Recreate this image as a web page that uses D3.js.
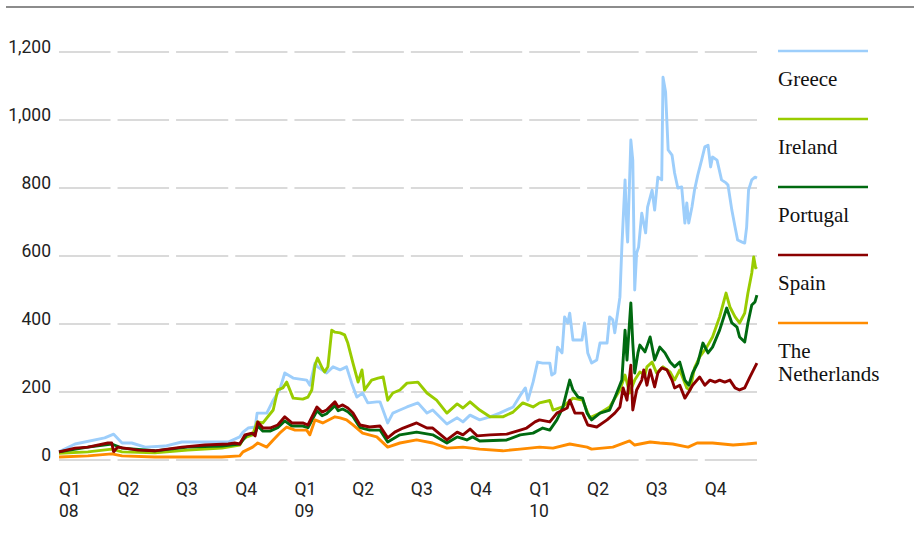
<!DOCTYPE html>
<html>
<head>
<meta charset="utf-8">
<script src="https://cdn.jsdelivr.net/npm/d3@7"></script>
<style>
  body { margin: 0; background: #fff; }
  .y-axis text { font-family: Roboto, sans-serif; font-size: 17.5px; fill: #222; }
  .q-label { font-family: Roboto, sans-serif; font-size: 17.5px; fill: #222; }
  .legend-label { font-family: "Liberation Serif", serif; font-size: 21px; fill: #111; }
</style>
</head>
<body>
<svg id="chart"></svg>
<script>
// Spreads over German bunds, basis points
const countries = ['Greece', 'Ireland', 'Portugal', 'Spain', 'The Netherlands'];
const colors = ['#9dcefb', '#99cc00', '#006a10', '#8b0000', '#ff8c00'];
const yTicks = [0, 200, 400, 600, 800, 1000, 1200];
const quarterNames = ['Q1', 'Q2', 'Q3', 'Q4'];

const greece = [
  ['2008-01-01', 24], ['2008-01-26', 47], ['2008-03-12', 65], ['2008-03-26', 76], ['2008-04-08', 50],
  ['2008-04-23', 50], ['2008-05-14', 38], ['2008-06-14', 41], ['2008-07-10', 53], ['2008-08-15', 53],
  ['2008-09-20', 53], ['2008-10-08', 68], ['2008-10-13', 82], ['2008-10-21', 94], ['2008-11-01', 97],
  ['2008-11-04', 138], ['2008-11-19', 138], ['2008-11-29', 176], ['2008-12-09', 206], ['2008-12-17', 256],
  ['2008-12-30', 241], ['2009-01-20', 235], ['2009-01-25', 220], ['2009-02-02', 285], ['2009-02-06', 274],
  ['2009-02-20', 256], ['2009-03-02', 274], ['2009-03-13', 265], ['2009-03-23', 274], ['2009-03-31', 226],
  ['2009-04-08', 185], ['2009-04-17', 197], ['2009-04-25', 168], ['2009-05-09', 171], ['2009-05-14', 171],
  ['2009-05-26', 109], ['2009-06-03', 138], ['2009-06-14', 147], ['2009-06-25', 156], ['2009-07-12', 168],
  ['2009-07-26', 138], ['2009-08-04', 147], ['2009-08-26', 106], ['2009-09-11', 124], ['2009-09-20', 112],
  ['2009-10-01', 132], ['2009-10-16', 118], ['2009-11-01', 127], ['2009-11-16', 138], ['2009-12-07', 156],
  ['2009-12-18', 190], ['2009-12-26', 212], ['2009-12-30', 176], ['2010-01-07', 229], ['2010-01-14', 288],
  ['2010-01-22', 285], ['2010-02-02', 285], ['2010-02-05', 250], ['2010-02-10', 256], ['2010-02-14', 332],
  ['2010-02-21', 315], ['2010-02-25', 421], ['2010-03-02', 403], ['2010-03-05', 432], ['2010-03-10', 353],
  ['2010-03-24', 353], ['2010-03-28', 403], ['2010-04-02', 315], ['2010-04-08', 285], ['2010-04-16', 294],
  ['2010-04-21', 344], ['2010-05-02', 344], ['2010-05-06', 421], ['2010-05-11', 412], ['2010-05-14', 374],
  ['2010-05-22', 479], ['2010-05-25', 626], ['2010-05-30', 824], ['2010-06-02', 668], ['2010-06-03', 641],
  ['2010-06-08', 941], ['2010-06-11', 882], ['2010-06-14', 500], ['2010-06-17', 609], ['2010-06-20', 626],
  ['2010-06-25', 726], ['2010-07-01', 668], ['2010-07-04', 744], ['2010-07-11', 794], ['2010-07-15', 735],
  ['2010-07-20', 832], ['2010-07-26', 824], ['2010-07-28', 1126], ['2010-08-01', 1082], ['2010-08-05', 912],
  ['2010-08-11', 897], ['2010-08-15', 844], ['2010-08-20', 800], ['2010-08-26', 803], ['2010-08-31', 697],
  ['2010-09-03', 756], ['2010-09-06', 697], ['2010-09-11', 744], ['2010-09-15', 794], ['2010-09-20', 838],
  ['2010-09-26', 882], ['2010-10-01', 921], ['2010-10-06', 926], ['2010-10-10', 862], ['2010-10-13', 891],
  ['2010-10-20', 882], ['2010-10-27', 824], ['2010-11-03', 815], ['2010-11-06', 809], ['2010-11-12', 735],
  ['2010-11-17', 685], ['2010-11-21', 647], ['2010-11-28', 641], ['2010-12-02', 638], ['2010-12-05', 685],
  ['2010-12-08', 794], ['2010-12-13', 824], ['2010-12-18', 832], ['2010-12-21', 829]
];

const ireland = [
  ['2008-01-01', 20], ['2008-02-15', 24], ['2008-03-23', 32], ['2008-04-08', 24], ['2008-05-29', 21],
  ['2008-07-19', 29], ['2008-09-10', 35], ['2008-10-08', 44], ['2008-10-13', 60], ['2008-10-19', 68],
  ['2008-10-28', 74], ['2008-11-04', 112], ['2008-11-13', 109], ['2008-11-29', 147], ['2008-12-06', 206],
  ['2008-12-14', 212], ['2008-12-20', 229], ['2008-12-30', 182], ['2009-01-14', 179], ['2009-01-22', 185],
  ['2009-01-28', 206], ['2009-02-02', 279], ['2009-02-06', 300], ['2009-02-13', 271], ['2009-02-17', 259],
  ['2009-02-22', 274], ['2009-02-28', 382], ['2009-03-05', 376], ['2009-03-13', 374], ['2009-03-20', 368],
  ['2009-03-25', 344], ['2009-04-02', 285], ['2009-04-10', 229], ['2009-04-16', 265], ['2009-04-20', 206],
  ['2009-05-01', 235], ['2009-05-11', 241], ['2009-05-19', 244], ['2009-05-26', 176], ['2009-06-03', 197],
  ['2009-06-14', 206], ['2009-06-25', 226], ['2009-07-12', 229], ['2009-07-26', 197], ['2009-08-10', 176],
  ['2009-08-26', 138], ['2009-09-11', 165], ['2009-09-20', 153], ['2009-10-01', 171], ['2009-10-16', 147],
  ['2009-11-01', 127], ['2009-11-21', 127], ['2009-12-07', 141], ['2009-12-22', 168], ['2010-01-07', 156],
  ['2010-01-17', 168], ['2010-02-02', 175], ['2010-02-07', 147], ['2010-02-22', 156], ['2010-03-10', 182],
  ['2010-03-25', 176], ['2010-04-05', 124], ['2010-04-21', 138], ['2010-05-06', 156], ['2010-05-22', 206],
  ['2010-05-30', 250], ['2010-06-06', 197], ['2010-06-14', 235], ['2010-06-22', 259], ['2010-06-30', 250],
  ['2010-07-03', 274], ['2010-07-11', 288], ['2010-07-18', 256], ['2010-07-28', 274], ['2010-08-08', 259],
  ['2010-08-15', 235], ['2010-08-23', 265], ['2010-09-03', 212], ['2010-09-08', 206], ['2010-09-15', 271],
  ['2010-09-23', 303], ['2010-10-04', 332], ['2010-10-13', 362], ['2010-10-24', 421], ['2010-11-03', 491],
  ['2010-11-09', 450], ['2010-11-17', 421], ['2010-11-24', 403], ['2010-12-02', 432], ['2010-12-07', 491],
  ['2010-12-13', 550], ['2010-12-16', 597], ['2010-12-19', 565], ['2010-12-21', 568]
];

const portugal = [
  ['2008-01-01', 24], ['2008-02-15', 38], ['2008-03-23', 47], ['2008-04-08', 35], ['2008-05-29', 27],
  ['2008-07-19', 38], ['2008-09-10', 41], ['2008-10-08', 47], ['2008-10-19', 74], ['2008-11-01', 79],
  ['2008-11-05', 100], ['2008-11-13', 85], ['2008-11-24', 85], ['2008-12-06', 95], ['2008-12-17', 115],
  ['2008-12-28', 100], ['2009-01-14', 100], ['2009-01-22', 95], ['2009-02-05', 145], ['2009-02-13', 130],
  ['2009-02-20', 136], ['2009-03-05', 160], ['2009-03-10', 145], ['2009-03-17', 150], ['2009-03-25', 142],
  ['2009-04-02', 128], ['2009-04-13', 95], ['2009-04-28', 88], ['2009-05-14', 88], ['2009-05-26', 53],
  ['2009-06-14', 74], ['2009-07-10', 82], ['2009-08-04', 74], ['2009-08-26', 50], ['2009-09-11', 68],
  ['2009-09-26', 59], ['2009-10-05', 68], ['2009-10-16', 56], ['2009-11-27', 59], ['2009-12-18', 74],
  ['2010-01-07', 79], ['2010-01-22', 94], ['2010-02-02', 88], ['2010-02-13', 118], ['2010-02-22', 153],
  ['2010-03-05', 235], ['2010-03-10', 206], ['2010-03-18', 185], ['2010-03-25', 182], ['2010-04-01', 138],
  ['2010-04-08', 118], ['2010-04-21', 138], ['2010-05-06', 147], ['2010-05-17', 197], ['2010-05-25', 235],
  ['2010-05-30', 382], ['2010-06-02', 294], ['2010-06-08', 462], ['2010-06-11', 344], ['2010-06-14', 256],
  ['2010-06-19', 315], ['2010-06-22', 338], ['2010-06-30', 318], ['2010-07-08', 362], ['2010-07-15', 294],
  ['2010-07-23', 332], ['2010-07-31', 315], ['2010-08-08', 288], ['2010-08-15', 274], ['2010-08-23', 288],
  ['2010-08-31', 235], ['2010-09-06', 220], ['2010-09-12', 256], ['2010-09-20', 285], ['2010-09-28', 344],
  ['2010-10-06', 315], ['2010-10-13', 332], ['2010-10-24', 382], ['2010-11-04', 447], ['2010-11-12', 403],
  ['2010-11-20', 391], ['2010-11-24', 362], ['2010-12-02', 347], ['2010-12-07', 403], ['2010-12-13', 456],
  ['2010-12-18', 465], ['2010-12-21', 485]
];

const spain = [
  ['2008-01-01', 24], ['2008-01-26', 35], ['2008-02-15', 38], ['2008-03-17', 50], ['2008-03-23', 50],
  ['2008-03-26', 24], ['2008-04-01', 38], ['2008-05-03', 29], ['2008-05-29', 27], ['2008-07-10', 38],
  ['2008-08-15', 44], ['2008-09-20', 47], ['2008-09-30', 50], ['2008-10-08', 47], ['2008-10-16', 74],
  ['2008-10-27', 79], ['2008-11-01', 71], ['2008-11-05', 112], ['2008-11-13', 94], ['2008-11-24', 94],
  ['2008-12-06', 103], ['2008-12-17', 127], ['2008-12-28', 109], ['2009-01-14', 109], ['2009-01-22', 103],
  ['2009-02-05', 156], ['2009-02-13', 141], ['2009-02-20', 147], ['2009-03-05', 171], ['2009-03-10', 156],
  ['2009-03-17', 162], ['2009-03-25', 153], ['2009-04-02', 138], ['2009-04-13', 103], ['2009-04-28', 97],
  ['2009-05-14', 100], ['2009-05-26', 65], ['2009-06-06', 82], ['2009-06-19', 94], ['2009-07-10', 109],
  ['2009-07-26', 94], ['2009-08-04', 94], ['2009-08-26', 59], ['2009-09-11', 82], ['2009-09-20', 74],
  ['2009-10-01', 91], ['2009-10-12', 71], ['2009-11-01', 74], ['2009-11-27', 76], ['2009-12-18', 88],
  ['2009-12-28', 94], ['2010-01-10', 112], ['2010-01-17', 118], ['2010-02-02', 112], ['2010-02-13', 138],
  ['2010-03-01', 153], ['2010-03-05', 176], ['2010-03-13', 138], ['2010-03-25', 138], ['2010-04-02', 103],
  ['2010-04-16', 97], ['2010-05-02', 118], ['2010-05-14', 138], ['2010-05-22', 156], ['2010-05-27', 212],
  ['2010-06-02', 176], ['2010-06-08', 279], ['2010-06-11', 147], ['2010-06-17', 206], ['2010-06-25', 235],
  ['2010-06-28', 265], ['2010-07-03', 220], ['2010-07-08', 265], ['2010-07-15', 215], ['2010-07-20', 256],
  ['2010-07-26', 271], ['2010-08-03', 265], ['2010-08-11', 235], ['2010-08-15', 212], ['2010-08-23', 220],
  ['2010-08-31', 182], ['2010-09-06', 200], ['2010-09-12', 220], ['2010-09-23', 244], ['2010-10-01', 220],
  ['2010-10-09', 235], ['2010-10-17', 229], ['2010-10-24', 235], ['2010-11-01', 229], ['2010-11-09', 235],
  ['2010-11-17', 212], ['2010-11-24', 206], ['2010-12-02', 212], ['2010-12-10', 244], ['2010-12-18', 274],
  ['2010-12-21', 285]
];

const netherlands = [
  ['2008-01-01', 9], ['2008-02-15', 12], ['2008-03-23', 18], ['2008-04-08', 12], ['2008-05-29', 9],
  ['2008-09-10', 9], ['2008-10-08', 12], ['2008-10-13', 24], ['2008-10-28', 38], ['2008-11-05', 50],
  ['2008-11-19', 38], ['2008-11-29', 59], ['2008-12-09', 79], ['2008-12-20', 97], ['2009-01-02', 88],
  ['2009-01-20', 88], ['2009-01-25', 74], ['2009-02-02', 118], ['2009-02-14', 109], ['2009-03-05', 127],
  ['2009-03-13', 124], ['2009-03-23', 118], ['2009-04-02', 103], ['2009-04-17', 79], ['2009-05-09', 68],
  ['2009-05-26', 38], ['2009-06-14', 50], ['2009-07-10', 59], ['2009-08-04', 50], ['2009-08-26', 35],
  ['2009-09-20', 38], ['2009-10-16', 32], ['2009-11-21', 27], ['2009-12-18', 32], ['2010-01-17', 38],
  ['2010-02-07', 35], ['2010-03-05', 47], ['2010-04-01', 38], ['2010-04-08', 32], ['2010-05-11', 38],
  ['2010-06-06', 56], ['2010-06-14', 44], ['2010-07-08', 53], ['2010-07-23', 50], ['2010-08-12', 47],
  ['2010-09-05', 38], ['2010-09-19', 50], ['2010-10-13', 50], ['2010-11-14', 44], ['2010-12-05', 47],
  ['2010-12-21', 50]
];

class SpreadChart {

    constructor(_config) {
        this.config = {
            parentElement: _config.parentElement,
            containerWidth: _config.containerWidth || 914,
            containerHeight: _config.containerHeight || 558,
        };
        this.initVis();
    }

    initVis() {
        let vis = this;

        vis.svg = d3.select(vis.config.parentElement)
            .attr('width', vis.config.containerWidth)
            .attr('height', vis.config.containerHeight);

        vis.parseDate = d3.timeParse('%Y-%m-%d');

        vis.xScale = d3.scaleTime()
            .domain([new Date(2008, 0, 1), new Date(2011, 0, 1)])
            .range([59, 764]);

        vis.yScale = d3.scaleLinear()
            .domain([0, 1200])
            .range([460, 52]);

        vis.line = d3.line()
            .x(d => vis.xScale(d.date))
            .y(d => vis.yScale(d.value));

        // rule across the top
        vis.svg.append('line')
            .attr('x1', 6).attr('x2', vis.config.containerWidth)
            .attr('y1', 7).attr('y2', 7)
            .attr('stroke', '#666')
            .attr('stroke-width', 1.6);
    }

    render() {
        let vis = this;

        const quarters = d3.timeMonth.every(3).range(new Date(2008, 0, 1), new Date(2011, 0, 1));

        // dashed grid: one segment per quarter, per tick
        const cells = [];
        yTicks.forEach(t => quarters.forEach(q => cells.push({ t, q })));
        vis.svg.append('g').selectAll('.grid-seg')
            .data(cells)
          .join('line')
            .attr('class', 'grid-seg')
            .attr('x1', d => vis.xScale(d.q))
            .attr('x2', d => vis.xScale(d3.timeMonth.offset(d.q, 3)) - 7)
            .attr('y1', d => vis.yScale(d.t))
            .attr('y2', d => vis.yScale(d.t))
            .attr('stroke', '#b5b5b5')
            .attr('stroke-width', 1.2);

        // y axis labels
        const yAxis = d3.axisLeft(vis.yScale)
            .tickValues(yTicks)
            .tickFormat(d3.format(','))
            .tickSize(0)
            .tickPadding(0);
        const yAxisG = vis.svg.append('g')
            .attr('class', 'y-axis')
            .attr('transform', 'translate(51,0)')
            .call(yAxis);
        yAxisG.select('.domain').remove();
        yAxisG.selectAll('text').attr('dy', 0);

        // quarter labels, with year under Q1
        const qLabel = vis.svg.append('g').selectAll('.q-label')
            .data(quarters)
          .join('text')
            .attr('class', 'q-label')
            .attr('x', d => vis.xScale(d))
            .attr('y', 495);
        qLabel.append('tspan')
            .text(d => quarterNames[Math.floor(d.getMonth() / 3)]);
        qLabel.filter(d => d.getMonth() === 0).append('tspan')
            .attr('x', d => vis.xScale(d))
            .attr('dy', 22)
            .text(d => d3.timeFormat('%y')(d));

        // series lines
        const series = [greece, ireland, portugal, spain, netherlands].map((s, i) => ({
            name: countries[i],
            color: colors[i],
            values: s.map(p => ({ date: vis.parseDate(p[0]), value: p[1] }))
        }));

        vis.svg.append('g').selectAll('.series')
            .data(series)
          .join('path')
            .attr('class', 'series')
            .attr('fill', 'none')
            .attr('stroke', d => d.color)
            .attr('stroke-width', 2.9)
            .attr('stroke-linejoin', 'round')
            .attr('d', d => vis.line(d.values));

        // legend on the right
        const legend = vis.svg.append('g').selectAll('.legend-item')
            .data(series)
          .join('g')
            .attr('class', 'legend-item')
            .attr('transform', (d, i) => `translate(778,${51 + i * 68})`);

        legend.append('line')
            .attr('x1', 0).attr('x2', 90)
            .attr('stroke', d => d.color)
            .attr('stroke-width', 2.5);

        const legendText = legend.append('text')
            .attr('class', 'legend-label')
            .attr('y', 35);
        legendText.selectAll('tspan')
            .data(d => d.name === 'The Netherlands' ? ['The', 'Netherlands'] : [d.name])
          .join('tspan')
            .attr('x', 0)
            .attr('dy', (d, i) => i === 0 ? 0 : 23)
            .text(d => d);
    }
}

const chart = new SpreadChart({ parentElement: '#chart' });
chart.render();
</script>
</body>
</html>
